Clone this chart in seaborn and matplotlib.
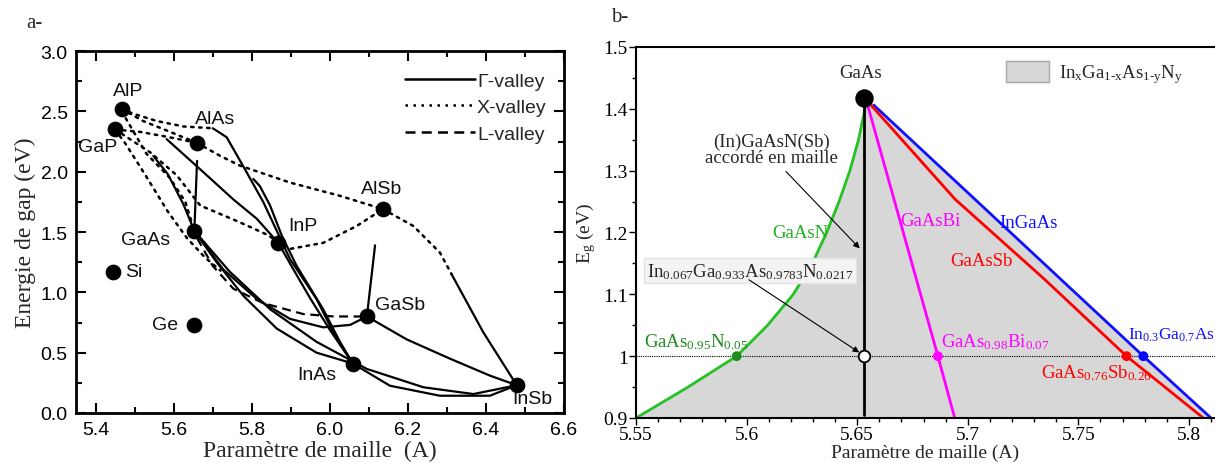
import matplotlib
matplotlib.use("Agg")
import matplotlib.pyplot as plt
import seaborn as sns
from matplotlib.patches import Patch
from matplotlib.lines import Line2D
from matplotlib.ticker import MultipleLocator, FuncFormatter

# ---------------- panel a : gap vs lattice constant (III-V) ----------------
compounds = ["AlP", "GaP", "AlAs", "GaAs", "InP", "AlSb", "GaSb", "InAs", "InSb", "Si", "Ge"]
a_const = [5.467, 5.450, 5.659, 5.653, 5.868, 6.136, 6.095, 6.059, 6.479, 5.444, 5.653]
a_gap = [2.52, 2.35, 2.24, 1.51, 1.41, 1.69, 0.80, 0.41, 0.23, 1.17, 0.73]

# label positions (x, y) for each compound
lab_x = [5.484, 5.405, 5.706, 5.527, 5.930, 6.133, 6.180, 5.966, 6.520, 5.475, 5.578]
lab_y = [2.67, 2.21, 2.44, 1.44, 1.55, 1.86, 0.90, 0.32, 0.12, 1.17, 0.73]

# Gamma valley (solid)
g_gaasp_x = [5.548, 5.585, 5.625, 5.653]
g_gaasp_y = [2.13, 1.98, 1.73, 1.51]
g_gainp_x = [5.582, 5.668, 5.753, 5.813, 5.868]
g_gainp_y = [2.27, 2.02, 1.77, 1.61, 1.41]
g_algaas_x = [5.653, 5.660]
g_algaas_y = [1.51, 2.09]
g_alinas_x = [5.700, 5.710, 5.736, 5.787, 5.830, 5.864, 5.898, 5.966, 6.009, 6.059]
g_alinas_y = [2.36, 2.34, 2.285, 1.995, 1.746, 1.511, 1.276, 0.945, 0.669, 0.41]
g_alinp_x = [5.804, 5.821, 5.847, 5.877, 5.915, 5.983, 6.026, 6.059]
g_alinp_y = [1.94, 1.88, 1.72, 1.47, 1.22, 0.86, 0.59, 0.41]
g_inasp_x = [5.868, 5.905, 5.950, 6.000, 6.059]
g_inasp_y = [1.41, 1.20, 0.95, 0.69, 0.41]
g_gainas_x = [5.653, 5.710, 5.779, 5.864, 5.966, 6.059]
g_gainas_y = [1.51, 1.25, 0.97, 0.70, 0.50, 0.41]
g_gaassb_x = [5.653, 5.727, 5.813, 5.898, 5.983, 6.052, 6.095]
g_gaassb_y = [1.51, 1.19, 0.945, 0.78, 0.71, 0.73, 0.80]
g_gains_x = [5.653, 5.744, 5.847, 5.966, 6.095, 6.240, 6.368, 6.479]
g_gains_y = [1.51, 1.17, 0.86, 0.59, 0.365, 0.213, 0.157, 0.23]
g_inassb_x = [6.059, 6.154, 6.282, 6.410, 6.479]
g_inassb_y = [0.41, 0.226, 0.143, 0.143, 0.23]
g_gainsb_x = [6.095, 6.197, 6.308, 6.410, 6.479]
g_gainsb_y = [0.80, 0.61, 0.45, 0.31, 0.23]
g_algasb_x = [6.116, 6.095]
g_algasb_y = [1.39, 0.80]
g_alinsb_x = [6.312, 6.393, 6.479]
g_alinsb_y = [1.15, 0.67, 0.23]

# X valley (dotted)
x_alp_top_x = [5.467, 5.497, 5.557, 5.625, 5.700]
x_alp_top_y = [2.52, 2.48, 2.42, 2.375, 2.36]
x_alp_alas_x = [5.467, 5.522, 5.591, 5.659]
x_alp_alas_y = [2.52, 2.42, 2.33, 2.24]
x_gap_alas_x = [5.450, 5.514, 5.582, 5.659]
x_gap_alas_y = [2.35, 2.33, 2.29, 2.24]
x_alas_alsb_x = [5.659, 5.720, 5.770, 5.898, 6.026, 6.136]
x_alas_alsb_y = [2.24, 2.13, 2.05, 1.91, 1.80, 1.69]
x_alsb_insb_x = [6.136, 6.214, 6.282, 6.312]
x_alsb_insb_y = [1.69, 1.55, 1.33, 1.15]
x_gap_alsb_x = [5.450, 5.540, 5.608, 5.668, 5.770, 5.838, 5.898, 5.983, 6.069, 6.136]
x_gap_alsb_y = [2.35, 2.16, 1.97, 1.72, 1.58, 1.48, 1.36, 1.41, 1.55, 1.69]
x_gap_gaas_x = [5.450, 5.477, 5.526, 5.585, 5.634, 5.680, 5.720]
x_gap_gaas_y = [2.35, 2.23, 1.98, 1.67, 1.45, 1.29, 1.18]
x_alp_gaas_x = [5.467, 5.530, 5.590, 5.630, 5.653]
x_alp_gaas_y = [2.50, 2.15, 1.95, 1.75, 1.51]

# L valley (dashed)
l_gaassb_x = [5.660, 5.700, 5.753, 5.830, 5.932, 6.010, 6.095]
l_gaassb_y = [1.45, 1.22, 1.03, 0.91, 0.82, 0.80, 0.80]

# ---------------- panel b : dilute nitrides around GaAs ----------------
gaas_pt = (5.6533, 1.418)
gaasn_x = [5.550, 5.5735, 5.5955, 5.6095, 5.6211, 5.6297, 5.6362, 5.6418, 5.6467, 5.6506, 5.6535, 5.6540]
gaasn_y = [0.90, 0.95, 1.00, 1.05, 1.10, 1.15, 1.20, 1.25, 1.30, 1.35, 1.40, 1.416]
ingaas_x = [5.6575, 5.7794, 5.8100]
ingaas_y = [1.406, 1.00, 0.90]
gaassb_x = [5.6565, 5.6942, 5.7345, 5.7718, 5.8065]
gaassb_y = [1.405, 1.254, 1.125, 1.00, 0.90]
gaasbi_x = [5.6548, 5.6865, 5.6941]
gaasbi_y = [1.405, 1.00, 0.90]
matched_x = [5.6533, 5.6533]
matched_y = [1.418, 0.905]

pts_x = [5.5955, 5.6865, 5.7718, 5.7794]
pts_c = ["#1f8c1f", "#ff00ff", "#ff0000", "#0000ff"]

sns.set_theme(style="ticks")
plt.rcParams['font.family'] = ['Liberation Serif', 'DejaVu Serif']
plt.rcParams['mathtext.fontset'] = 'custom'
plt.rcParams['mathtext.rm'] = 'Liberation Serif'
plt.rcParams['mathtext.it'] = 'Liberation Serif:italic'
plt.rcParams['mathtext.bf'] = 'Liberation Serif:bold'

fig = plt.figure(figsize=(12.15, 4.64), dpi=100)
ax1 = fig.add_axes([0.0626, 0.1078, 0.4016, 0.780])
ax2 = fig.add_axes([0.5235, 0.0970, 0.4765, 0.7996])

# ----- panel a -----
solid = [(g_gaasp_x, g_gaasp_y), (g_gainp_x, g_gainp_y), (g_algaas_x, g_algaas_y),
         (g_alinas_x, g_alinas_y), (g_alinp_x, g_alinp_y), (g_inasp_x, g_inasp_y),
         (g_gainas_x, g_gainas_y), (g_gaassb_x, g_gaassb_y), (g_gains_x, g_gains_y),
         (g_inassb_x, g_inassb_y), (g_gainsb_x, g_gainsb_y), (g_algasb_x, g_algasb_y),
         (g_alinsb_x, g_alinsb_y)]
dotted = [(x_alp_top_x, x_alp_top_y), (x_alp_alas_x, x_alp_alas_y), (x_gap_alas_x, x_gap_alas_y),
          (x_alas_alsb_x, x_alas_alsb_y), (x_alsb_insb_x, x_alsb_insb_y), (x_gap_alsb_x, x_gap_alsb_y),
          (x_gap_gaas_x, x_gap_gaas_y), (x_alp_gaas_x, x_alp_gaas_y)]
for xs, ys in solid:
    sns.lineplot(x=xs, y=ys, sort=False, estimator=None, color="black", lw=1.6, ax=ax1)
for xs, ys in dotted:
    sns.lineplot(x=xs, y=ys, sort=False, estimator=None, color="black", lw=1.8,
                 linestyle=(0, (1, 2.2)), dash_capstyle="round", ax=ax1)
sns.lineplot(x=l_gaassb_x, y=l_gaassb_y, sort=False, estimator=None, color="black", lw=1.6,
             linestyle=(0, (4, 2.5)), ax=ax1)
sns.scatterplot(x=a_const, y=a_gap, color="black", s=110, edgecolor="black", zorder=5, ax=ax1)
for name, tx, ty in zip(compounds, lab_x, lab_y):
    ha = "left" if name == "Si" else "center"
    ax1.text(tx, ty, name, ha=ha, va="center", fontsize=14, fontfamily="Liberation Sans",
             color="#111111")

ax1.set_xlim(5.35, 6.6)
ax1.set_ylim(0, 3.0)
ax1.xaxis.set_major_locator(MultipleLocator(0.2))
ax1.xaxis.set_minor_locator(MultipleLocator(0.1))
ax1.yaxis.set_major_locator(MultipleLocator(0.5))
ax1.yaxis.set_minor_locator(MultipleLocator(0.25))
ax1.xaxis.set_major_formatter(FuncFormatter(lambda v, p: f"{v:.1f}"))
ax1.yaxis.set_major_formatter(FuncFormatter(lambda v, p: f"{v:.1f}"))
ax1.tick_params(which="both", direction="in", top=True, right=True, width=1.5, colors="black")
ax1.tick_params(which="major", length=7, labelsize=14, pad=6)
ax1.tick_params(which="minor", length=4)
for lab in ax1.get_xticklabels() + ax1.get_yticklabels():
    lab.set_fontfamily("Liberation Sans")
for sp in ax1.spines.values():
    sp.set_linewidth(2.0)
    sp.set_color("black")
ax1.set_xlabel("Paramètre de maille  (A)", fontsize=17, labelpad=1)
ax1.set_ylabel("Energie de gap (eV)", fontsize=17, labelpad=3)

handles = [Line2D([], [], color="black", lw=1.8),
           Line2D([], [], color="black", lw=1.8, linestyle=(0, (1, 2.2))),
           Line2D([], [], color="black", lw=1.8, linestyle=(0, (4, 2.5)))]
leg = ax1.legend(handles, ["Γ-valley", "X-valley", "L-valley"], loc="upper right",
                 bbox_to_anchor=(1.0, 0.99), frameon=False, handlelength=3.6,
                 handletextpad=0.1, labelspacing=0.45, prop={"family": "Liberation Sans", "size": 14})
fig.text(0.022, 0.94, "a-", fontsize=15)

# ----- panel b -----
poly_x = gaasn_x + [gaas_pt[0]] + ingaas_x
poly_y = gaasn_y + [gaas_pt[1]] + ingaas_y
ax2.fill(poly_x, poly_y, color="#d7d7d7", lw=0, zorder=0)
ax2.axhline(1.0, color="black", lw=0.8, linestyle=(0, (1, 1)), zorder=1)
sns.lineplot(x=gaasn_x, y=gaasn_y, sort=False, estimator=None, color="#22c322", lw=2, ax=ax2)
sns.lineplot(x=ingaas_x, y=ingaas_y, sort=False, estimator=None, color="#1010ff", lw=2, ax=ax2)
sns.lineplot(x=gaassb_x, y=gaassb_y, sort=False, estimator=None, color="#ff0000", lw=2, ax=ax2)
sns.lineplot(x=gaasbi_x, y=gaasbi_y, sort=False, estimator=None, color="#ff00ff", lw=2, ax=ax2)
sns.lineplot(x=matched_x, y=matched_y, sort=False, estimator=None, color="black", lw=2, ax=ax2)

sns.scatterplot(x=pts_x, y=[1.0] * len(pts_x), hue=pts_x, palette=pts_c, legend=False,
                s=50, linewidth=0, zorder=5, ax=ax2)
ax2.scatter([5.6533], [1.0], s=70, facecolor="white", edgecolor="black", lw=1.3, zorder=6)
ax2.scatter([gaas_pt[0]], [gaas_pt[1]], s=150, color="black", zorder=6)

fs = 13.5
ax2.text(5.6516, 1.459, "GaAs", ha="center", va="center", fontsize=fs)
ax2.text(5.6114, 1.334, "(In)GaAsN(Sb)\naccordé en maille", ha="center", va="center",
         fontsize=fs, linespacing=0.9)
ax2.annotate("", xy=(5.652, 1.171), xytext=(5.6169, 1.302),
             arrowprops=dict(arrowstyle="-|>", color="black", lw=0.8, mutation_scale=9))
ax2.text(5.6241, 1.200, "GaAsN", ha="center", va="center", fontsize=fs, color="#22b022")
ax2.text(5.6015, 1.138, "In$_{0.067}$Ga$_{0.933}$As$_{0.9783}$N$_{0.0217}$", ha="center",
         va="center", fontsize=fs,
         bbox=dict(boxstyle="square,pad=0.15", facecolor="#f3f3f3", edgecolor="#e4e4e4"))
ax2.annotate("", xy=(5.652, 1.0035), xytext=(5.600, 1.126),
             arrowprops=dict(arrowstyle="-|>", color="black", lw=0.8, mutation_scale=9))
ax2.text(5.5774, 1.024, "GaAs$_{0.95}$N$_{0.05}$", ha="center", va="center", fontsize=fs,
         color="#1f8c1f")
ax2.text(5.6829, 1.219, "GaAsBi", ha="center", va="center", fontsize=fs, color="#ff00ff")
ax2.text(5.7274, 1.2165, "InGaAs", ha="center", va="center", fontsize=fs, color="#1010ff")
ax2.text(5.7063, 1.1544, "GaAsSb", ha="center", va="center", fontsize=fs, color="#ff0000")
ax2.text(5.6878, 1.024, "GaAs$_{0.98}$Bi$_{0.07}$", ha="left", va="center", fontsize=fs,
         color="#ff00ff")
ax2.text(5.7725, 1.035, "In$_{0.3}$Ga$_{0.7}$As", ha="left", va="center", fontsize=12.5,
         color="#1010ff")
ax2.text(5.7333, 0.974, "GaAs$_{0.76}$Sb$_{0.26}$", ha="left", va="center", fontsize=fs,
         color="#ff0000")

ax2.legend([Patch(facecolor="#d7d7d7", edgecolor="#a8a8a8")],
           ["In$_\\mathrm{x}$Ga$_\\text{1-x}$As$_\\text{1-y}$N$_\\mathrm{y}$"],
           loc="center left", bbox_to_anchor=(0.61, 0.93),
           frameon=False, handlelength=2.3, handleheight=1.4, handletextpad=0.5, fontsize=fs)

ax2.set_xlim(5.55, 5.8118)
ax2.set_ylim(0.9, 1.5)
ax2.xaxis.set_major_locator(MultipleLocator(0.05))
ax2.xaxis.set_minor_locator(MultipleLocator(0.01))
ax2.yaxis.set_major_locator(MultipleLocator(0.1))
ax2.yaxis.set_minor_locator(MultipleLocator(0.05))
ax2.xaxis.set_major_formatter(FuncFormatter(lambda v, p: f"{round(v, 3):g}"))
ax2.yaxis.set_major_formatter(FuncFormatter(lambda v, p: f"{round(v, 3):g}"))
ax2.tick_params(which="both", direction="out", colors="black", width=1.0)
ax2.tick_params(which="major", length=5, labelsize=14, pad=1)
ax2.tick_params(which="minor", length=3)
ax2.spines["right"].set_visible(False)
for sp in ["left", "bottom", "top"]:
    ax2.spines[sp].set_linewidth(1.5)
    ax2.spines[sp].set_color("black")
ax2.set_xlabel("Paramètre de maille (A)", fontsize=14, labelpad=0)
ax2.set_ylabel("E$_\\mathrm{g}$ (eV)", fontsize=14, labelpad=4)
fig.text(0.503, 0.952, "b-", fontsize=15)

fig.savefig("out.png", dpi=100)
